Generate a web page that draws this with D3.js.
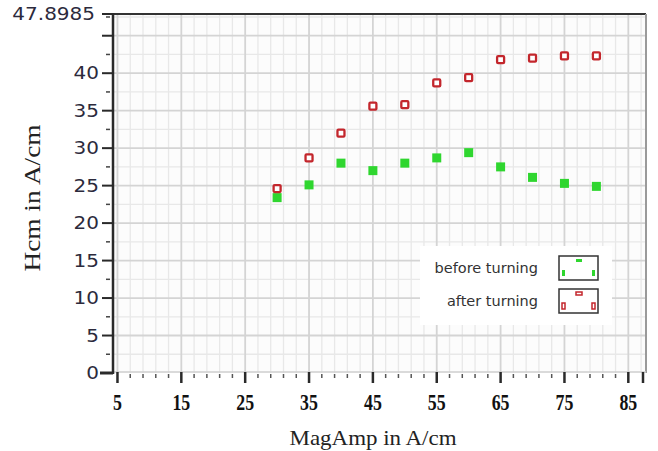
<!DOCTYPE html>
<html>
<head>
<meta charset="utf-8">
<script src="https://cdn.jsdelivr.net/npm/d3@7"></script>
<style>
  body { margin: 0; background: #fff; }
  #chartDiv { width: 658px; height: 451px; }
</style>
</head>
<body>
<div id="chartDiv"></div>
<script>
// MagAmp values (x) and Hcm values for both series
const magAmp = [30, 35, 40, 45, 50, 55, 60, 65, 70, 75, 80];
const hcmBefore = [23.4, 25.1, 28.0, 27.0, 28.0, 28.7, 29.4, 27.5, 26.1, 25.3, 24.9];
const hcmAfter = [24.6, 28.7, 32.0, 35.6, 35.8, 38.7, 39.4, 41.8, 42.0, 42.3, 42.3];
const xTickLabels = [5, 15, 25, 35, 45, 55, 65, 75, 85];
const yTickLabels = [0, 5, 10, 15, 20, 25, 30, 35, 40];
const yMax = 47.8985;
const seriesNames = ['before turning', 'after turning'];

const W = 658, H = 451;
const plot = { left: 113, right: 643, top: 14, bottom: 373 };

const svg = d3.select('#chartDiv').append('svg')
	.attr('width', W)
	.attr('height', H)
	.style('font-family', 'DejaVu Sans, Verdana, sans-serif');

const x = d3.scaleLinear().domain([4.3, 87.3]).range([plot.left, plot.right]);
const y = d3.scaleLinear().domain([0, yMax]).range([plot.bottom, plot.top]);

//plot background
svg.append('rect')
	.attr('x', plot.left).attr('y', plot.top)
	.attr('width', plot.right + 3 - plot.left).attr('height', plot.bottom - plot.top)
	.attr('fill', '#fcfcfc');

//grid lines
const xMinor = d3.range(7, 87.3, 2).filter(v => (v - 5) % 10 !== 0);
const yMinor = d3.range(2.5, yMax, 5);
const yMajor = d3.range(5, yMax, 5);
const gridG = svg.append('g');
gridG.selectAll('.vmin').data(xMinor).enter().append('line')
	.attr('x1', d => x(d)).attr('x2', d => x(d))
	.attr('y1', plot.top).attr('y2', plot.bottom)
	.attr('stroke', '#e8e8e8').attr('stroke-width', 1.3);
gridG.selectAll('.hmin').data(yMinor).enter().append('line')
	.attr('x1', plot.left).attr('x2', plot.right + 3)
	.attr('y1', d => y(d)).attr('y2', d => y(d))
	.attr('stroke', '#e8e8e8').attr('stroke-width', 1.3);
gridG.selectAll('.vmaj').data(xTickLabels).enter().append('line')
	.attr('x1', d => x(d)).attr('x2', d => x(d))
	.attr('y1', plot.top).attr('y2', plot.bottom)
	.attr('stroke', '#d4d4d4').attr('stroke-width', 1.8);
gridG.selectAll('.hmaj').data(yMajor).enter().append('line')
	.attr('x1', plot.left).attr('x2', plot.right + 3)
	.attr('y1', d => y(d)).attr('y2', d => y(d))
	.attr('stroke', '#d4d4d4').attr('stroke-width', 1.8);

//frame
svg.append('line')
	.attr('x1', plot.left).attr('x2', plot.right + 3)
	.attr('y1', plot.top).attr('y2', plot.top)
	.attr('stroke', '#333').attr('stroke-width', 2);
svg.append('line')
	.attr('x1', plot.right + 3).attr('x2', plot.right + 3)
	.attr('y1', plot.top).attr('y2', plot.bottom)
	.attr('stroke', '#9a9a9a').attr('stroke-width', 2);
svg.append('line')
	.attr('x1', plot.left).attr('x2', plot.right + 3)
	.attr('y1', plot.bottom - 1).attr('y2', plot.bottom - 1)
	.attr('stroke', '#cfcfcf').attr('stroke-width', 1.5);

//y axis
const yAxisG = svg.append('g');
yAxisG.append('line')
	.attr('x1', plot.left).attr('x2', plot.left)
	.attr('y1', plot.top - 1).attr('y2', plot.bottom + 1)
	.attr('stroke', '#2a2a2a').attr('stroke-width', 2.5);
const yMajorTicks = d3.range(0, yMax, 5).concat([yMax]);
yAxisG.selectAll('.ymaj').data(yMajorTicks).enter().append('line')
	.attr('x1', d => d === 0 ? 100 : 102).attr('x2', plot.left)
	.attr('y1', d => y(d)).attr('y2', d => y(d))
	.attr('stroke', '#2a2a2a').attr('stroke-width', d => d === 0 ? 3 : 2);
yAxisG.selectAll('.ymin').data(yMinor).enter().append('line')
	.attr('x1', 106).attr('x2', 110)
	.attr('y1', d => y(d)).attr('y2', d => y(d))
	.attr('stroke', '#444').attr('stroke-width', 1.5);
yAxisG.selectAll('.ylab').data(yTickLabels.concat([yMax])).enter().append('text')
	.attr('transform', d => `translate(${d === yMax ? 95 : 99}, ${y(d) + 6}) scale(1.25,1.05)`)
	.attr('text-anchor', 'end')
	.attr('font-size', 16)
	.attr('fill', '#2c2a3c')
	.text(d => d);

//x axis
const xAxisG = svg.append('g');
const xEnd = x.domain()[1];
xAxisG.selectAll('.xmaj').data(xTickLabels.concat([xEnd])).enter().append('line')
	.attr('x1', d => x(d)).attr('x2', d => x(d))
	.attr('y1', plot.bottom - 1).attr('y2', plot.bottom + 10)
	.attr('stroke', '#2a2a2a').attr('stroke-width', 2.5);
xAxisG.selectAll('.xmin').data(xMinor.filter(v => v < xEnd - 0.5)).enter().append('line')
	.attr('x1', d => x(d)).attr('x2', d => x(d))
	.attr('y1', plot.bottom + 1).attr('y2', plot.bottom + 5)
	.attr('stroke', '#555').attr('stroke-width', 1.5);
xAxisG.selectAll('.xlab').data(xTickLabels).enter().append('text')
	.attr('transform', d => `translate(${x(d)}, 410) scale(1.05,1.35)`)
	.attr('text-anchor', 'middle')
	.attr('font-family', 'Liberation Serif, Times New Roman, serif')
	.attr('font-weight', 'bold')
	.attr('font-size', 17)
	.attr('fill', '#111')
	.text(d => d);

//axis titles
svg.append('text')
	.attr('x', 373).attr('y', 445)
	.attr('text-anchor', 'middle')
	.attr('font-family', 'Liberation Serif, Times New Roman, serif')
	.attr('font-size', 22)
	.attr('textLength', 167).attr('lengthAdjust', 'spacingAndGlyphs')
	.attr('fill', '#222')
	.text('MagAmp in A/cm');
svg.append('text')
	.attr('transform', 'translate(40, 198) rotate(-90)')
	.attr('text-anchor', 'middle')
	.attr('font-family', 'Liberation Serif, Times New Roman, serif')
	.attr('font-size', 23)
	.attr('textLength', 147).attr('lengthAdjust', 'spacingAndGlyphs')
	.attr('fill', '#222')
	.text('Hcm in A/cm');

//data marks
const ptsBefore = magAmp.map((m, i) => ({ m, h: hcmBefore[i] }));
const ptsAfter = magAmp.map((m, i) => ({ m, h: hcmAfter[i] }));
const s = 9;
svg.append('g').selectAll('rect').data(ptsBefore).enter().append('rect')
	.attr('x', d => x(d.m) - s / 2).attr('y', d => y(d.h) - s / 2)
	.attr('width', s).attr('height', s)
	.attr('fill', '#2fd62f');
svg.append('g').selectAll('rect').data(ptsAfter).enter().append('rect')
	.attr('x', d => x(d.m) - s / 2 + 1).attr('y', d => y(d.h) - s / 2 + 1)
	.attr('width', s - 2).attr('height', s - 2)
	.attr('rx', 1)
	.attr('fill', '#fff')
	.attr('stroke', '#c3262c').attr('stroke-width', 2.3);

//legend
const legG = svg.append('g').attr('transform', 'translate(420, 246)');
legG.append('rect')
	.attr('width', 192).attr('height', 79)
	.attr('fill', '#fff');
const legColors = ['#2fd62f', '#c3262c'];
seriesNames.forEach((name, i) => {
	const ly = 10 + i * 33;
	legG.append('text')
		.attr('x', 118).attr('y', ly + 17)
		.attr('text-anchor', 'end')
		.attr('font-size', 14.5)
		.attr('fill', '#333')
		.text(name);
	legG.append('rect')
		.attr('x', 139).attr('y', ly)
		.attr('width', 39).attr('height', 24)
		.attr('fill', '#fff')
		.attr('stroke', '#333').attr('stroke-width', 1.5);
	const pieces = [[156, ly + 3, 6, 3], [142, ly + 14, 3, 6], [172, ly + 14, 3, 6]];
	legG.selectAll('.p' + i).data(pieces).enter().append('rect')
		.attr('x', d => d[0]).attr('y', d => d[1])
		.attr('width', d => d[2]).attr('height', d => d[3])
		.attr('fill', i === 0 ? legColors[0] : 'none')
		.attr('stroke', i === 0 ? 'none' : legColors[1])
		.attr('stroke-width', 1.5);
});
</script>
</body>
</html>
